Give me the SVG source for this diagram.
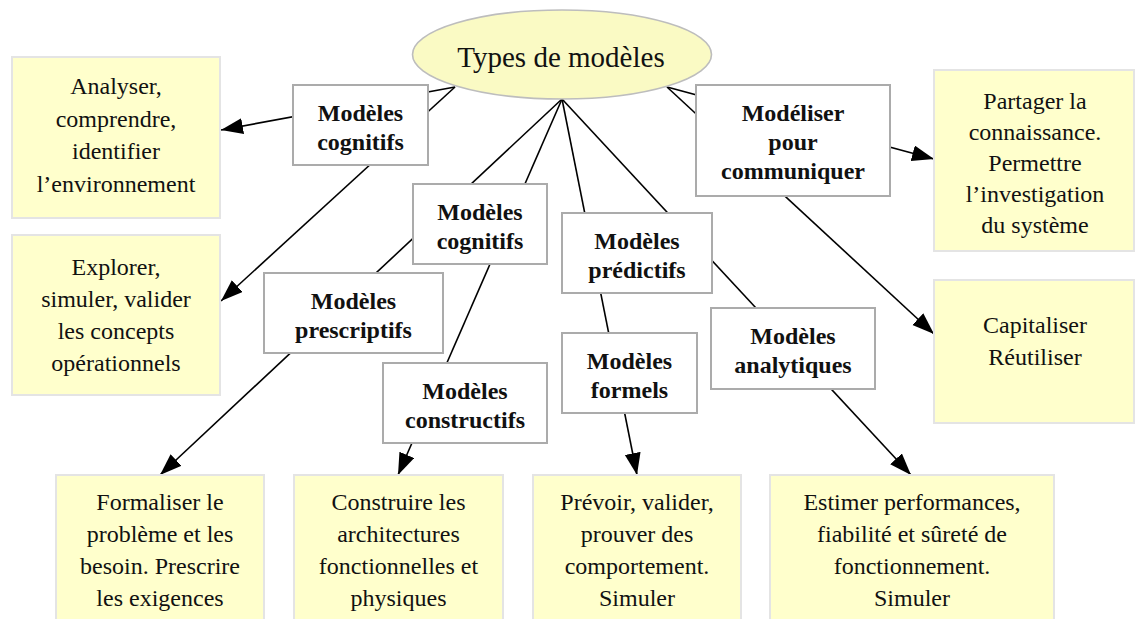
<svg xmlns="http://www.w3.org/2000/svg" width="1136" height="619" viewBox="0 0 1136 619">
<style>
.goal{fill:#FFFFCC;stroke:#E4E4E4;stroke-width:2}
.lab{fill:#FFFFFF;stroke:#ABABAB;stroke-width:2}
.t{font-family:"Liberation Serif","Times New Roman",serif;font-size:24px;fill:#111;text-anchor:middle}
.b{font-family:"Liberation Serif","Times New Roman",serif;font-size:24px;font-weight:bold;fill:#111;text-anchor:middle}
.c{fill:none;stroke:#000;stroke-width:1.6}
</style>
<defs>
<marker id="ah" markerUnits="userSpaceOnUse" markerWidth="24" markerHeight="18" refX="22" refY="8" orient="auto">
<path d="M0,0 L22,8 L0,16 z" fill="#000"/>
</marker>
</defs>
<rect width="1136" height="619" fill="#fff"/>
<g id="connectors">
<line class="c" x1="455" y1="87" x2="221" y2="130" marker-end="url(#ah)"/>
<line class="c" x1="455" y1="87" x2="221" y2="301" marker-end="url(#ah)"/>
<line class="c" x1="562" y1="99" x2="160" y2="475" marker-end="url(#ah)"/>
<line class="c" x1="562" y1="99" x2="398" y2="475" marker-end="url(#ah)"/>
<line class="c" x1="562" y1="99" x2="637" y2="475" marker-end="url(#ah)"/>
<line class="c" x1="562" y1="99" x2="911" y2="475" marker-end="url(#ah)"/>
<line class="c" x1="667" y1="87" x2="934" y2="159" marker-end="url(#ah)"/>
<line class="c" x1="667" y1="87" x2="934" y2="334" marker-end="url(#ah)"/>
</g>
<g id="root">
<ellipse cx="562" cy="54.5" rx="149.5" ry="44.5" fill="#FAFAC4" stroke="#BDBDBD" stroke-width="1.6"/>
<text x="561" y="67" class="t" style="font-size:29px">Types de modèles</text>
</g>
<g id="label-cognitifs-1">
<rect class="lab" x="293" y="85" width="135" height="80"/>
<text class="b" x="360.5" y="121">Modèles</text>
<text class="b" x="360.5" y="150">cognitifs</text>
</g>
<g id="label-cognitifs-2">
<rect class="lab" x="413" y="184" width="134" height="80"/>
<text class="b" x="480" y="220">Modèles</text>
<text class="b" x="480" y="249">cognitifs</text>
</g>
<g id="label-prescriptifs">
<rect class="lab" x="264" y="273" width="179" height="80"/>
<text class="b" x="353.5" y="309">Modèles</text>
<text class="b" x="353.5" y="338">prescriptifs</text>
</g>
<g id="label-constructifs">
<rect class="lab" x="383" y="363" width="164" height="80"/>
<text class="b" x="465" y="399">Modèles</text>
<text class="b" x="465" y="428">constructifs</text>
</g>
<g id="label-predictifs">
<rect class="lab" x="562" y="213" width="150" height="80"/>
<text class="b" x="637" y="249">Modèles</text>
<text class="b" x="637" y="278">prédictifs</text>
</g>
<g id="label-formels">
<rect class="lab" x="562" y="333" width="135" height="80"/>
<text class="b" x="629.5" y="369">Modèles</text>
<text class="b" x="629.5" y="398">formels</text>
</g>
<g id="label-analytiques">
<rect class="lab" x="711" y="308" width="164" height="81"/>
<text class="b" x="793" y="344">Modèles</text>
<text class="b" x="793" y="373">analytiques</text>
</g>
<g id="label-communiquer">
<rect class="lab" x="696" y="85" width="194" height="111"/>
<text class="b" x="793" y="121">Modéliser</text>
<text class="b" x="793" y="150">pour</text>
<text class="b" x="793" y="179">communiquer</text>
</g>
<g id="analyser">
<rect class="goal" x="12" y="57" width="208" height="161"/>
<text class="t" x="116" y="94">Analyser,</text>
<text class="t" x="116" y="126.5">comprendre,</text>
<text class="t" x="116" y="159">identifier</text>
<text class="t" x="116" y="191.5">l’environnement</text>
</g>
<g id="explorer">
<rect class="goal" x="12" y="235" width="208" height="160"/>
<text class="t" x="116" y="275">Explorer,</text>
<text class="t" x="116" y="307">simuler, valider</text>
<text class="t" x="116" y="339">les concepts</text>
<text class="t" x="116" y="371">opérationnels</text>
</g>
<g id="partager">
<rect class="goal" x="934" y="70" width="200" height="181"/>
<text class="t" x="1035" y="109">Partager la</text>
<text class="t" x="1035" y="140">connaissance.</text>
<text class="t" x="1035" y="171">Permettre</text>
<text class="t" x="1035" y="202">l’investigation</text>
<text class="t" x="1035" y="233">du système</text>
</g>
<g id="capitaliser">
<rect class="goal" x="934" y="280" width="200" height="143"/>
<text class="t" x="1035" y="333">Capitaliser</text>
<text class="t" x="1035" y="365">Réutiliser</text>
</g>
<g id="formaliser">
<rect class="goal" x="56" y="475" width="208" height="170"/>
<text class="t" x="160" y="510">Formaliser le</text>
<text class="t" x="160" y="542">problème et les</text>
<text class="t" x="160" y="574">besoin. Prescrire</text>
<text class="t" x="160" y="606">les exigences</text>
</g>
<g id="construire">
<rect class="goal" x="294" y="475" width="209" height="170"/>
<text class="t" x="398.5" y="510">Construire les</text>
<text class="t" x="398.5" y="542">architectures</text>
<text class="t" x="398.5" y="574">fonctionnelles et</text>
<text class="t" x="398.5" y="606">physiques</text>
</g>
<g id="prevoir">
<rect class="goal" x="533" y="475" width="208" height="170"/>
<text class="t" x="637" y="510">Prévoir, valider,</text>
<text class="t" x="637" y="542">prouver des</text>
<text class="t" x="637" y="574">comportement.</text>
<text class="t" x="637" y="606">Simuler</text>
</g>
<g id="estimer">
<rect class="goal" x="770" y="475" width="284" height="170"/>
<text class="t" x="912" y="510">Estimer performances,</text>
<text class="t" x="912" y="542">fiabilité et sûreté de</text>
<text class="t" x="912" y="574">fonctionnement.</text>
<text class="t" x="912" y="606">Simuler</text>
</g>
</svg>
